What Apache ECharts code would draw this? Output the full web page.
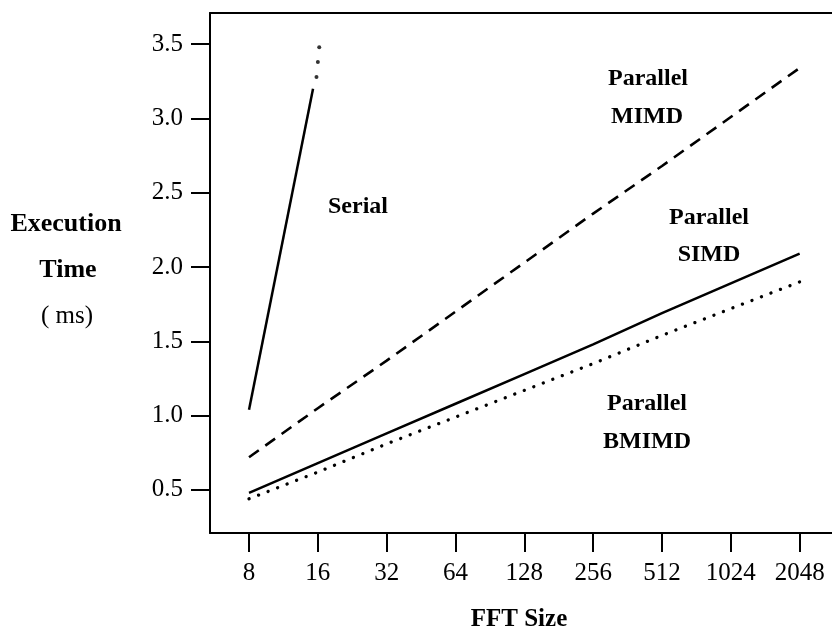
<!DOCTYPE html>
<html>
<head>
<meta charset="utf-8">
<script src="https://cdn.jsdelivr.net/npm/echarts@6/dist/echarts.min.js"></script>
<style>
  html, body { margin: 0; padding: 0; background: #fff; }
  #chart { width: 832px; height: 633px; }
</style>
</head>
<body>
<div id="chart"></div>
<script>
// x positions are category indexes (0 = 8, 8 = 2048)
var fftSizes = ['8', '16', '32', '64', '128', '256', '512', '1024', '2048'];
var fftIndex = [0, 1, 2, 3, 4, 5, 6, 7, 8];
var yTicks = [0.5, 1.0, 1.5, 2.0, 2.5, 3.0, 3.5];

// execution time (ms)
var mimd = [0.72, 1.05, 1.37, 1.70, 2.03, 2.36, 2.68, 3.01, 3.34];
var simd = [0.48, 0.68, 0.88, 1.08, 1.28, 1.48, 1.69, 1.89, 2.09];
var bmimd = [0.44, 0.62, 0.81, 0.99, 1.17, 1.35, 1.54, 1.72, 1.90];
// serial goes off the top between 8 and 16
var serialX = [0, 0.93];
var serialY = [1.04, 3.20];
var serialDotX = [0.98, 1.00, 1.02];
var serialDotY = [3.28, 3.38, 3.48];

var font = 'Liberation Serif, Times New Roman, serif';

function pairs(xs, ys) {
  return xs.map(function (x, i) { return [x, ys[i]]; });
}

var chart = echarts.init(document.getElementById('chart'), null, { renderer: 'canvas' });

function label(text, x, y, size, bold) {
  return {
    type: 'text',
    x: x,
    y: y,
    style: {
      text: text,
      fill: '#000',
      font: (bold ? 'bold ' : '') + size + 'px ' + font,
      textAlign: 'center',
      textVerticalAlign: 'middle'
    }
  };
}

var option = {
  backgroundColor: '#fff',
  animation: false,
  grid: { left: 210, right: 0, top: 13, bottom: 100 },
  xAxis: [{
    type: 'value',
    min: -0.567,
    max: 8.47,
    splitLine: { show: false },
    axisLine: { onZero: false, lineStyle: { color: '#000', width: 2 } },
    axisTick: { customValues: fftIndex, length: 19, lineStyle: { color: '#000', width: 2 } },
    axisLabel: {
      customValues: fftIndex,
      margin: 28,
      color: '#000',
      fontFamily: font,
      fontSize: 25,
      formatter: function (v) { return fftSizes[Math.round(v)]; }
    }
  }, {
    // top border of the box
    type: 'value',
    position: 'top',
    min: -0.567,
    max: 8.47,
    splitLine: { show: false },
    axisLine: { show: true, onZero: false, lineStyle: { color: '#000', width: 2 } },
    axisTick: { show: false },
    axisLabel: { show: false }
  }],
  yAxis: {
    type: 'value',
    min: 0.21,
    max: 3.71,
    splitLine: { show: false },
    axisLine: { show: true, onZero: false, lineStyle: { color: '#000', width: 2 } },
    axisTick: { customValues: yTicks, length: 19, lineStyle: { color: '#000', width: 2 } },
    axisLabel: {
      customValues: yTicks,
      margin: 27,
      color: '#000',
      fontFamily: font,
      fontSize: 25,
      formatter: function (v) { return v.toFixed(1); }
    }
  },
  series: [{
    name: 'Serial',
    type: 'line',
    data: pairs(serialX, serialY),
    symbol: 'none',
    lineStyle: { color: '#000', width: 2.5 }
  }, {
    name: 'Serial (off scale)',
    type: 'scatter',
    data: pairs(serialDotX, serialDotY),
    symbolSize: 4,
    itemStyle: { color: '#000' }
  }, {
    name: 'Parallel MIMD',
    type: 'line',
    data: pairs(fftIndex, mimd),
    symbol: 'none',
    lineStyle: { color: '#000', width: 2.6, type: [12, 8] }
  }, {
    name: 'Parallel SIMD',
    type: 'line',
    data: pairs(fftIndex, simd),
    symbol: 'none',
    lineStyle: { color: '#000', width: 2.5 }
  }, {
    name: 'Parallel BMIMD',
    type: 'line',
    data: pairs(fftIndex, bmimd),
    symbol: 'none',
    lineStyle: { color: '#000', width: 3.3, type: [0.1, 10.1], cap: 'round' }
  }],
  graphic: [
    label('Execution', 66, 224, 26, true),
    label('Time', 68, 270, 26, true),
    label('( ms)', 67, 316, 25, false),
    label('FFT Size', 519, 620, 25, true),
    label('Serial', 358, 207, 24, true),
    label('Parallel', 648, 79, 24, true),
    label('MIMD', 647, 117, 24, true),
    label('Parallel', 709, 218, 24, true),
    label('SIMD', 709, 255, 24, true),
    label('Parallel', 647, 404, 24, true),
    label('BMIMD', 647, 442, 24, true)
  ]
};

chart.setOption(option);
</script>
</body>
</html>
